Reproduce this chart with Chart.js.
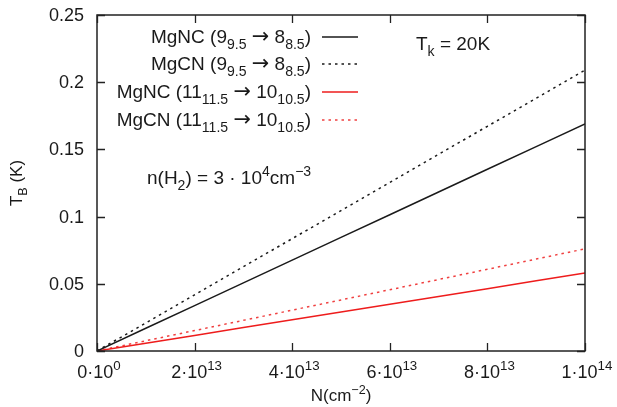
<!DOCTYPE html>
<html>
<head>
<meta charset="utf-8">
<script src="https://cdn.jsdelivr.net/npm/chart.js@4"></script>
<style>
  html, body { margin: 0; padding: 0; background: #fff; }
  #wrap { width: 617px; height: 407px; }
</style>
</head>
<body>
<div id="wrap"><canvas id="tbChart" width="617" height="407"></canvas></div>
<script>
// column density N (cm^-2)
const columnDensity = [0, 1e13, 2e13, 3e13, 4e13, 5e13, 6e13, 7e13, 8e13, 9e13, 1e14];

// brightness temperature T_B (K)
const mgncLow  = [0, 0.0169, 0.0338, 0.0507, 0.0676, 0.0845, 0.1014, 0.1183, 0.1352, 0.1521, 0.169];
const mgcnLow  = [0, 0.0209, 0.0418, 0.0627, 0.0836, 0.1045, 0.1254, 0.1463, 0.1672, 0.1881, 0.209];
const mgncHigh = [0, 0.0058, 0.0116, 0.0174, 0.0232, 0.029, 0.0348, 0.0406, 0.0464, 0.0522, 0.058];
const mgcnHigh = [0, 0.0076, 0.0152, 0.0228, 0.0304, 0.038, 0.0456, 0.0532, 0.0608, 0.0684, 0.076];

// ticks
const xTicks = [0, 2e13, 4e13, 6e13, 8e13, 1e14];
const xTickMant = ["0", "2", "4", "6", "8", "1"];
const xTickExp = ["0", "13", "13", "13", "13", "14"];
const yTicks = [0, 0.05, 0.1, 0.15, 0.2, 0.25];
const yTickLabels = ["0", "0.05", "0.1", "0.15", "0.2", "0.25"];

// legend: [text, 0 normal / 1 sub / 2 sup / 3 arrow]
const legendRows = [
  [["MgNC (9", 0], ["9.5", 1], [" ", 0], ["\u2192", 3], [" 8", 0], ["8.5", 1], [")", 0]],
  [["MgCN (9", 0], ["9.5", 1], [" ", 0], ["\u2192", 3], [" 8", 0], ["8.5", 1], [")", 0]],
  [["MgNC (11", 0], ["11.5", 1], [" ", 0], ["\u2192", 3], [" 10", 0], ["10.5", 1], [")", 0]],
  [["MgCN (11", 0], ["11.5", 1], [" ", 0], ["\u2192", 3], [" 10", 0], ["10.5", 1], [")", 0]],
];

const FONT = '"Liberation Sans", Arial, sans-serif';
const ARROW_FONT = '"DejaVu Sans", sans-serif';
const TXT = "#1a1a1a";

function toPoints(ys) {
  return columnDensity.map((x, i) => ({ x: x, y: ys[i] }));
}

function partFont(m, size) {
  if (m === 3) return (size * 1.1) + "px " + ARROW_FONT;
  return (m ? size * 0.74 : size) + "px " + FONT;
}

function richWidth(ctx, parts, size) {
  let w = 0;
  parts.forEach(([t, m]) => {
    ctx.font = partFont(m, size);
    w += ctx.measureText(t).width;
  });
  return w;
}

function drawRich(ctx, parts, x, y, size, align) {
  const w = richWidth(ctx, parts, size);
  let cx = x;
  if (align === "center") cx = x - w / 2;
  if (align === "right") cx = x - w;
  ctx.textAlign = "left";
  ctx.textBaseline = "alphabetic";
  parts.forEach(([t, m]) => {
    ctx.font = partFont(m, size);
    let dy = 0;
    if (m === 1) dy = size * 0.3;
    if (m === 2) dy = -size * 0.42;
    ctx.fillText(t, cx, y + dy);
    cx += ctx.measureText(t).width;
  });
}

const styles = [
  { color: "#1a1a1a", dash: [] },
  { color: "#1a1a1a", dash: [2.5, 4] },
  { color: "#ee1c1c", dash: [] },
  { color: "#f04040", dash: [2.5, 4] },
];

const decor = {
  id: "decor",
  afterDraw(chart) {
    const ctx = chart.ctx;
    const a = chart.chartArea;
    const xs = chart.scales.x;
    const ys = chart.scales.y;
    ctx.save();

    // frame
    ctx.strokeStyle = "#222";
    ctx.lineWidth = 1.5;
    ctx.strokeRect(a.left, a.top, a.right - a.left, a.bottom - a.top);

    // inward ticks on all sides
    ctx.lineWidth = 1.3;
    ctx.beginPath();
    xTicks.forEach(v => {
      const px = Math.round(xs.getPixelForValue(v)) + 0.5;
      ctx.moveTo(px, a.bottom); ctx.lineTo(px, a.bottom - 8);
      ctx.moveTo(px, a.top); ctx.lineTo(px, a.top + 8);
    });
    yTicks.forEach(v => {
      const py = Math.round(ys.getPixelForValue(v)) + 0.5;
      ctx.moveTo(a.left, py); ctx.lineTo(a.left + 8, py);
      ctx.moveTo(a.right, py); ctx.lineTo(a.right - 8, py);
    });
    ctx.stroke();

    ctx.fillStyle = TXT;
    // y tick labels
    ctx.font = "18px " + FONT;
    ctx.textAlign = "right";
    ctx.textBaseline = "middle";
    yTicks.forEach((v, i) => {
      ctx.fillText(yTickLabels[i], a.left - 13, ys.getPixelForValue(v) + 1);
    });

    // x tick labels
    xTicks.forEach((v, i) => {
      const px = xs.getPixelForValue(v);
      drawRich(ctx, [[xTickMant[i] + "\u00b710", 0], [xTickExp[i], 2]], px + 2, a.bottom + 27, 18, "center");
    });

    // axis titles
    drawRich(ctx, [["N(cm", 0], ["\u22122", 2], [")", 0]], (a.left + a.right) / 2, 401, 17, "center");
    ctx.save();
    ctx.translate(22, 183);
    ctx.rotate(-Math.PI / 2);
    drawRich(ctx, [["T", 0], ["B", 1], [" (K)", 0]], 0, 0, 17, "center");
    ctx.restore();

    // legend
    const rowY = [43, 70, 98, 126];
    legendRows.forEach((row, i) => {
      ctx.fillStyle = TXT;
      drawRich(ctx, row, 311, rowY[i], 19, "right");
      ctx.strokeStyle = styles[i].color;
      ctx.lineWidth = 1.5;
      ctx.setLineDash(styles[i].dash);
      ctx.beginPath();
      ctx.moveTo(322, rowY[i] - 6);
      ctx.lineTo(358, rowY[i] - 6);
      ctx.stroke();
      ctx.setLineDash([]);
    });

    // annotations
    ctx.fillStyle = TXT;
    drawRich(ctx, [["T", 0], ["k", 1], [" = 20K", 0]], 416, 50, 19, "left");
    drawRich(ctx, [["n(H", 0], ["2", 1], [") = 3 \u00b7 10", 0], ["4", 2], ["cm", 0], ["\u22123", 2]], 147, 184, 19, "left");

    ctx.restore();
  }
};

const datasets = [mgncLow, mgcnLow, mgncHigh, mgcnHigh].map((ys, i) => ({
  data: toPoints(ys),
  borderColor: styles[i].color,
  borderDash: styles[i].dash,
  borderWidth: 1.5,
  pointRadius: 0,
  tension: 0,
  fill: false,
}));

new Chart(document.getElementById("tbChart").getContext("2d"), {
  type: "line",
  data: { datasets: datasets },
  options: {
    responsive: false,
    animation: false,
    layout: { padding: { left: 97, right: 32, top: 15, bottom: 56 } },
    plugins: { legend: { display: false }, tooltip: { enabled: false } },
    scales: {
      x: { type: "linear", min: 0, max: 1e14, display: false },
      y: { type: "linear", min: 0, max: 0.25, display: false },
    },
  },
  plugins: [decor],
});
</script>
</body>
</html>
